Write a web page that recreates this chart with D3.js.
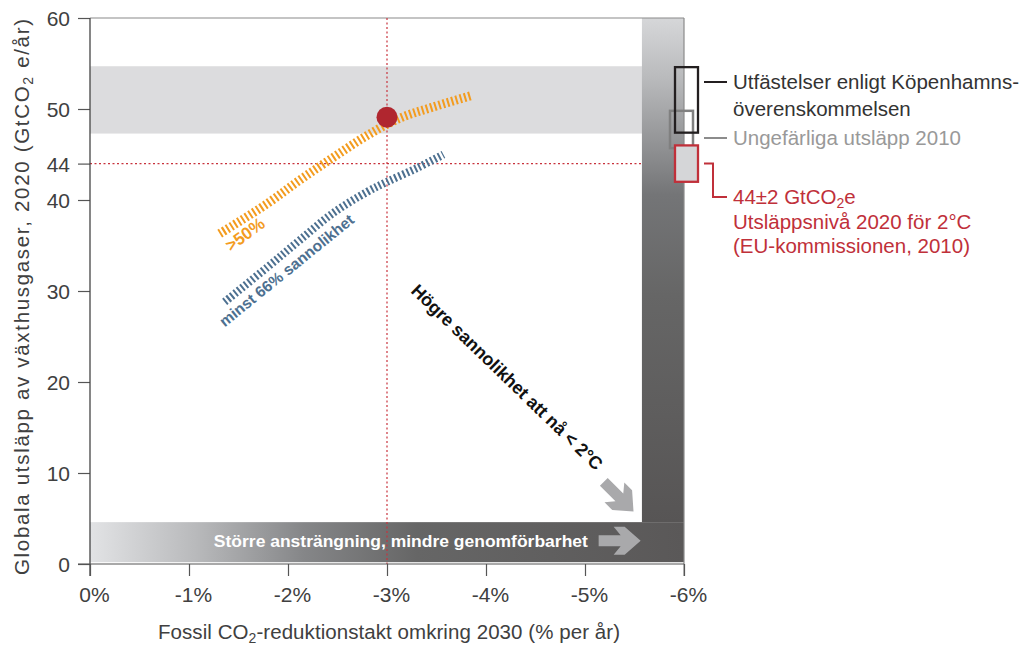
<!DOCTYPE html>
<html><head><meta charset="utf-8">
<script src="https://cdn.jsdelivr.net/npm/d3@7"></script>
<style>
body{margin:0;background:#fff;}
svg{display:block;font-family:"Liberation Sans",Arial,sans-serif;}
</style></head>
<body><svg id="c" width="1021" height="647"></svg>
<script>
// ---- data ----
const xTicks = [0, -1, -2, -3, -4, -5, -6];
const yTicks = [0, 10, 20, 30, 40, 44, 50, 60];
const orangeX = [-1.31, -1.79, -2.12, -2.46, -2.80, -3.13, -3.46, -3.86];
const orangeY = [36.3, 39.6, 42.2, 44.7, 47.1, 49.0, 50.2, 51.5];
const blueX = [-1.36, -1.79, -2.12, -2.46, -2.80, -3.00, -3.30, -3.57];
const blueY = [28.8, 32.6, 35.6, 38.6, 40.9, 42.0, 43.5, 45.0];
const pointX = -3, pointY = 49.1;
const bandRange = [47.3, 54.7];
const pledgeRange = [47.4, 54.6];
const emis2010Range = [45.7, 49.8];
const targetRange = [42, 46];
const targetLevel = 44;
const effortBar = [0.2, 4.6];      // bottom bar y-range
const probBarX = -5.575;           // vertical bar starts at this x
const legendLines = [
  ["Utfästelser enligt Köpenhamns-", "överenskommelsen"],
  ["Ungefärliga utsläpp 2010"],
  ["44±2 GtCO₂e", "Utsläppsnivå 2020 för 2°C", "(EU-kommissionen, 2010)"]
];

const svg = d3.select("#c");
const x = d3.scaleLinear().domain([0, -6]).range([90, 684]);
const y = d3.scaleLinear().domain([0, 60]).range([564, 18]);

const defs = svg.append("defs");
const gv = defs.append("linearGradient").attr("id","gv").attr("x1",0).attr("y1",0).attr("x2",0).attr("y2",1);
[[0,"#d6d7d9"],[0.12,"#b9babc"],[0.35,"#747577"],[0.55,"#666666"],[1,"#575555"]].forEach(s=>gv.append("stop").attr("offset",s[0]).attr("stop-color",s[1]));
const gh = defs.append("linearGradient").attr("id","gh").attr("x1",0).attr("y1",0).attr("x2",1).attr("y2",0);
[[0,"#e2e3e5"],[0.18,"#b8b9bb"],[0.36,"#858688"],[0.55,"#666666"],[1,"#5a5858"]].forEach(s=>gh.append("stop").attr("offset",s[0]).attr("stop-color",s[1]));

// grey band
svg.append("rect").attr("x",x(0)).attr("width",x(-6)-x(0))
  .attr("y",y(bandRange[1])).attr("height",y(bandRange[0])-y(bandRange[1])).attr("fill","#dcdcde");

// vertical gradient bar
svg.append("rect").attr("x",x(probBarX)).attr("width",x(-6)-x(probBarX))
  .attr("y",y(60)).attr("height",y(effortBar[1])-y(60)).attr("fill","url(#gv)");
// horizontal gradient bar
svg.append("rect").attr("x",x(0)).attr("width",x(-6)-x(0))
  .attr("y",y(effortBar[1])).attr("height",y(effortBar[0])-y(effortBar[1])).attr("fill","url(#gh)");

// frame
svg.append("line").attr("x1",x(0)).attr("x2",x(-6)).attr("y1",y(60)).attr("y2",y(60)).attr("stroke","#8a8a8a").attr("stroke-width",1.2);
svg.append("line").attr("x1",x(-6)).attr("x2",x(-6)).attr("y1",y(60)).attr("y2",y(0)+12).attr("stroke","#8a8a8a").attr("stroke-width",1.2);

// red dotted reference lines
svg.append("line").attr("x1",x(0)).attr("x2",x(probBarX)).attr("y1",y(targetLevel)).attr("y2",y(targetLevel))
  .attr("stroke","#c8323c").attr("stroke-width",1.2).attr("stroke-dasharray","2,2.5");
svg.append("line").attr("x1",x(pointX)).attr("x2",x(pointX)).attr("y1",y(60)).attr("y2",y(0))
  .attr("stroke","#c8323c").attr("stroke-width",1.2).attr("stroke-dasharray","2,2.5");

// axes
const yAxis = svg.append("g").attr("transform",`translate(${x(0)},0)`)
  .call(d3.axisLeft(y).tickValues(yTicks).tickSize(12).tickSizeOuter(0).tickFormat(d=>d));
yAxis.select(".domain").remove();
yAxis.selectAll("line").attr("stroke","#555").attr("stroke-width",1.2);
yAxis.selectAll("text").attr("font-size",21).attr("fill","#404040").attr("x",-20).attr("dy","0.36em").attr("font-family","Liberation Sans, Arial, sans-serif");
svg.append("line").attr("x1",x(0)).attr("x2",x(0)).attr("y1",y(60)).attr("y2",y(0)+12).attr("stroke","#444").attr("stroke-width",1.3);

const xAxis = svg.append("g").attr("transform",`translate(0,${y(0)})`)
  .call(d3.axisBottom(x).tickValues(xTicks).tickSize(12).tickSizeOuter(0).tickFormat(d=>`${d}%`));
xAxis.select(".domain").remove();
xAxis.selectAll("line").attr("stroke","#555").attr("stroke-width",1.2);
xAxis.selectAll("text").attr("font-size",21).attr("fill","#404040").attr("y",23).attr("x",4).attr("font-family","Liberation Sans, Arial, sans-serif");
svg.append("line").attr("x1",x(0)-12).attr("x2",x(-6)).attr("y1",y(0)).attr("y2",y(0)).attr("stroke","#555").attr("stroke-width",1.2);

// axis titles
const yt = svg.append("text").attr("transform",`translate(29,${(y(0)+y(60))/2+6}) rotate(-90)`)
  .attr("text-anchor","middle").attr("font-size",20.5).attr("fill","#404040")
  .attr("textLength",556).attr("lengthAdjust","spacing");
yt.append("tspan").text("Globala utsläpp av växthusgaser, 2020 (GtCO");
yt.append("tspan").attr("font-size",14).attr("dy",4).text("2");
yt.append("tspan").attr("dy",-4).text(" e/år)");

const xt = svg.append("text").attr("x",x(-3)+2).attr("y",639).attr("text-anchor","middle").attr("font-size",20.5).attr("fill","#404040")
  .attr("textLength",462).attr("lengthAdjust","spacing");
xt.append("tspan").text("Fossil CO");
xt.append("tspan").attr("font-size",14).attr("dy",4).text("2");
xt.append("tspan").attr("dy",-4).text("-reduktionstakt omkring 2030 (% per år)");

// curves
const line = d3.line().x(d=>x(d[0])).y(d=>y(d[1])).curve(d3.curveCatmullRom);
svg.append("path").attr("d",line(orangeX.map((v,i)=>[v,orangeY[i]])))
  .attr("fill","none").attr("stroke","#f39c1f").attr("stroke-width",9).attr("stroke-dasharray","2,2.4");
svg.append("path").attr("d",line(blueX.map((v,i)=>[v,blueY[i]])))
  .attr("fill","none").attr("stroke","#4d7090").attr("stroke-width",8).attr("stroke-dasharray","2,2.4");

// curve labels
svg.append("text").attr("transform",`translate(${x(-1.6)},${y(35.7)}) rotate(-36)`)
  .attr("text-anchor","middle").attr("font-size",17).attr("font-weight","bold").attr("fill","#f39c1f").text(">50%");
svg.append("text").attr("transform",`translate(${x(-2.02)},${y(31.8)}) rotate(-39)`)
  .attr("text-anchor","middle").attr("font-size",15.5).attr("font-weight","bold").attr("fill","#4d7090")
  .attr("textLength",168).attr("lengthAdjust","spacingAndGlyphs").text("minst 66% sannolikhet");

// red point
svg.append("circle").attr("cx",x(pointX)).attr("cy",y(pointY)).attr("r",10.5).attr("fill","#b0262f");

// arrows
const arrowPath = "M-21,-5.5 L1,-5.5 L-6,-14 L5,-14 L21,0 L5,14 L-6,14 L1,5.5 L-21,5.5 Z";
svg.append("path").attr("d",arrowPath).attr("fill","#a9a9ab")
  .attr("transform",`translate(${x(-5.35)},${y(2.55)})`);
svg.append("path").attr("d",arrowPath).attr("fill","#a9a9ab")
  .attr("transform",`translate(${x(-5.34)},${y(7.4)}) rotate(45)`);

// bottom bar label
svg.append("text").attr("x",x(-3.14)).attr("y",y(2.55)+6).attr("text-anchor","middle")
  .attr("font-family","Liberation Sans Narrow, Arial Narrow, sans-serif").attr("font-stretch","condensed")
  .attr("font-size",17).attr("font-weight","bold").attr("fill","#fff")
  .attr("textLength",374).attr("lengthAdjust","spacingAndGlyphs")
  .text("Större ansträngning, mindre genomförbarhet");

// diagonal label
svg.append("text").attr("transform",`translate(${x(-4.17)},${y(20.05)}) rotate(44)`)
  .attr("text-anchor","middle").attr("font-family","Liberation Sans Narrow, Arial Narrow, sans-serif")
  .attr("font-size",18).attr("font-weight","bold").attr("fill","#111")
  .attr("textLength",258).attr("lengthAdjust","spacingAndGlyphs")
  .text("Högre sannolikhet att nå < 2°C");

// boxes on the right
const bx = x(-6);
svg.append("rect").attr("x",bx-14).attr("width",23).attr("y",y(emis2010Range[1])).attr("height",y(emis2010Range[0])-y(emis2010Range[1]))
  .attr("fill","none").attr("stroke","#808080").attr("stroke-width",2.5);
svg.append("rect").attr("x",bx-9).attr("width",23).attr("y",y(pledgeRange[1])).attr("height",y(pledgeRange[0])-y(pledgeRange[1]))
  .attr("fill","none").attr("stroke","#231f20").attr("stroke-width",2.3);
svg.append("rect").attr("x",bx-9).attr("width",23).attr("y",y(targetRange[1])).attr("height",y(targetRange[0])-y(targetRange[1]))
  .attr("fill","#d5d6d8").attr("stroke","#c0303a").attr("stroke-width",2.3);

// legend connectors and text
const lx0 = bx+20, lx1 = bx+43, tx = bx+49;
svg.append("line").attr("x1",lx0).attr("x2",lx1).attr("y1",82).attr("y2",82).attr("stroke","#231f20").attr("stroke-width",2);
svg.append("line").attr("x1",lx0).attr("x2",lx1).attr("y1",138).attr("y2",138).attr("stroke","#8c8c8c").attr("stroke-width",2);
svg.append("path").attr("d",`M${lx0},${y(targetLevel)} H${lx0+9} V197 H${lx1}`).attr("fill","none").attr("stroke","#c0303a").attr("stroke-width",2);

const colors = ["#333333","#999999","#c0303a"];
const startY = [89, 145, 204];
const lineGap = [27, 0, 24.5];
legendLines.forEach((lines,i)=>{
  lines.forEach((t,j)=>{
    const el = svg.append("text").attr("x",tx).attr("y",startY[i]+j*lineGap[i]).attr("font-size",20.5).attr("fill",colors[i]);
    if (t.includes("₂")) {
      const parts = t.split("₂");
      el.append("tspan").text(parts[0]);
      el.append("tspan").attr("font-size",14).attr("dy",4).text("2");
      el.append("tspan").attr("dy",-4).text(parts[1]);
    } else el.text(t);
  });
});
</script></body></html>
